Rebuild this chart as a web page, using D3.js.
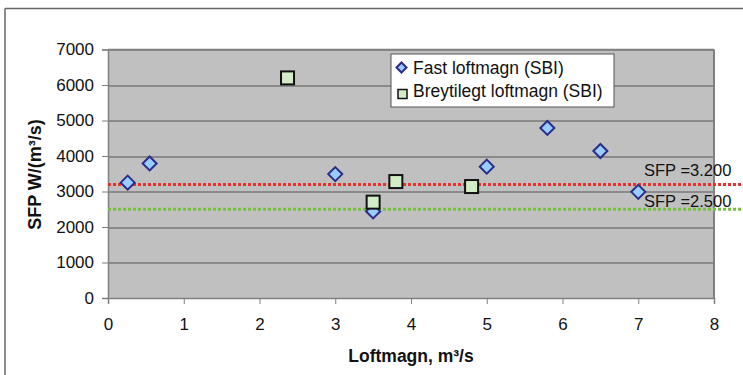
<!DOCTYPE html>
<html>
<head>
<meta charset="utf-8">
<script src="https://cdn.jsdelivr.net/npm/d3@7"></script>
<style>
  body { margin: 0; background: #fff; }
  text { font-family: "Liberation Sans", Arial, sans-serif; }
</style>
</head>
<body>
<div id="chart"></div>
<script>
// Fast loftmagn (SBI)
var fast_x = [0.26, 0.55, 3.0, 3.5, 5.0, 5.8, 6.5, 7.0];
var fast_y = [3250, 3790, 3490, 2440, 3700, 4790, 4140, 2990];
// Breytilegt loftmagn (SBI)
var breyt_x = [2.37, 3.5, 3.8, 4.8];
var breyt_y = [6200, 2700, 3280, 3140];
// reference lines
var ref_values = [3200, 2500];
var ref_labels = ['SFP =3.200', 'SFP =2.500'];
var ref_colors = ['#e3332a', '#77c043'];

var x_ticks = [0, 1, 2, 3, 4, 5, 6, 7, 8];
var y_ticks = [0, 1000, 2000, 3000, 4000, 5000, 6000, 7000];

var W = 743, H = 375;
var margin = {top: 49.5, right: 29, bottom: 77, left: 108};
var width = W - margin.left - margin.right;
var height = H - margin.top - margin.bottom;

var svg = d3.select('#chart')
    .append('svg')
        .attr('width', W)
        .attr('height', H);

// outer frame (top + left only visible)
svg.append('line').attr('x1', 5).attr('y1', 8.5).attr('x2', W).attr('y2', 8.5)
    .attr('stroke', '#666').attr('stroke-width', 1.5);
svg.append('line').attr('x1', 5).attr('y1', 8.5).attr('x2', 5).attr('y2', H)
    .attr('stroke', '#666').attr('stroke-width', 1.5);

var g = svg.append('g')
    .attr('transform', 'translate(' + margin.left + ',' + margin.top + ')');

var x_scale = d3.scaleLinear().domain([0, 8]).range([0, width]);
var y_scale = d3.scaleLinear().domain([0, 7000]).range([height, 0]);

// plot background
g.append('rect')
    .attr('width', width)
    .attr('height', height)
    .attr('fill', '#c0c0c0');

// gridlines
g.selectAll('.grid')
    .data(y_ticks.slice(1))
    .enter()
    .append('line')
        .attr('x1', 0)
        .attr('x2', width)
        .attr('y1', function(d){ return Math.round(y_scale(d)) + 0.5; })
        .attr('y2', function(d){ return Math.round(y_scale(d)) + 0.5; })
        .attr('stroke', '#555')
        .attr('stroke-width', 1);

// plot border (right + top)
g.append('line').attr('x1', width).attr('x2', width).attr('y1', 0).attr('y2', height)
    .attr('stroke', '#808080').attr('stroke-width', 2);
g.append('line').attr('x1', 0).attr('x2', width).attr('y1', 0).attr('y2', 0)
    .attr('stroke', '#808080').attr('stroke-width', 1.5);

// axes
var x_axis = d3.axisBottom(x_scale).tickValues(x_ticks).tickSize(6).tickPadding(14)
    .tickFormat(d3.format('d'));
var y_axis = d3.axisLeft(y_scale).tickValues(y_ticks).tickSize(6).tickPadding(8)
    .tickFormat(d3.format('d'));

g.append('g')
    .attr('class', 'x-axis')
    .attr('transform', 'translate(0,' + height + ')')
    .call(x_axis)
    .call(function(a){
        a.select('.domain').attr('stroke', '#808080').attr('stroke-width', 1.5);
        a.selectAll('line').attr('stroke', '#808080');
        a.selectAll('text').style('font-size', '17px').attr('fill', '#111');
    });

g.append('g')
    .attr('class', 'y-axis')
    .call(y_axis)
    .call(function(a){
        a.select('.domain').attr('stroke', '#808080').attr('stroke-width', 1.5);
        a.selectAll('line').attr('stroke', '#808080');
        a.selectAll('text').style('font-size', '17px').attr('fill', '#111');
    });

// reference lines
var ref_label_dy = [-8, -2];
g.selectAll('.ref')
    .data(ref_values)
    .enter()
    .append('line')
        .attr('x1', 0)
        .attr('x2', W - margin.left - 2)
        .attr('y1', function(d){ return y_scale(d); })
        .attr('y2', function(d){ return y_scale(d); })
        .attr('stroke', function(d, i){ return ref_colors[i]; })
        .attr('stroke-width', 3)
        .attr('stroke-dasharray', '3,2');

g.selectAll('.ref-label')
    .data(ref_values)
    .enter()
    .append('text')
        .attr('x', 536)
        .attr('y', function(d, i){ return y_scale(d) + ref_label_dy[i]; })
        .style('font-size', '16.5px')
        .attr('fill', '#111')
        .text(function(d, i){ return ref_labels[i]; });

// markers
function diamond(cx, cy, r){
    return 'M' + cx + ',' + (cy - r) + 'L' + (cx + r) + ',' + cy +
        'L' + cx + ',' + (cy + r) + 'L' + (cx - r) + ',' + cy + 'Z';
}

var fast = fast_x.map(function(x, i){ return {x: x, y: fast_y[i]}; });
var breyt = breyt_x.map(function(x, i){ return {x: x, y: breyt_y[i]}; });

g.selectAll('.fast')
    .data(fast)
    .enter()
    .append('path')
        .attr('d', function(d){ return diamond(x_scale(d.x), y_scale(d.y), 7); })
        .attr('fill', '#99ccff')
        .attr('stroke', '#2b2b8a')
        .attr('stroke-width', 2);

g.selectAll('.breyt')
    .data(breyt)
    .enter()
    .append('rect')
        .attr('x', function(d){ return x_scale(d.x) - 6.5; })
        .attr('y', function(d){ return y_scale(d.y) - 6.5; })
        .attr('width', 13)
        .attr('height', 13)
        .attr('fill', '#d3ecc8')
        .attr('stroke', '#111')
        .attr('stroke-width', 2);

// legend
var legend = svg.append('g').attr('transform', 'translate(391,54)');
legend.append('rect')
    .attr('width', 223)
    .attr('height', 53)
    .attr('fill', '#fff')
    .attr('stroke', '#555')
    .attr('stroke-width', 1);
legend.append('path')
    .attr('d', diamond(10.5, 13.5, 5))
    .attr('fill', '#99ccff')
    .attr('stroke', '#2b2b8a')
    .attr('stroke-width', 2);
legend.append('rect')
    .attr('x', 7).attr('y', 35.5).attr('width', 9).attr('height', 9)
    .attr('fill', '#d3ecc8')
    .attr('stroke', '#111')
    .attr('stroke-width', 1.5);
legend.append('text').attr('x', 22).attr('y', 20).style('font-size', '17.5px')
    .attr('fill', '#111').text('Fast loftmagn (SBI)');
legend.append('text').attr('x', 22).attr('y', 43).style('font-size', '17.5px')
    .attr('fill', '#111').text('Breytilegt loftmagn (SBI)');

// axis titles
svg.append('text')
    .attr('x', margin.left + width / 2)
    .attr('y', 361.5)
    .attr('text-anchor', 'middle')
    .style('font-size', '17.5px')
    .style('font-weight', 'bold')
    .attr('fill', '#111')
    .text('Loftmagn, m³/s');

svg.append('text')
    .attr('transform', 'translate(41,' + 174.5 + ')rotate(-90)')
    .attr('text-anchor', 'middle')
    .style('font-size', '18px')
    .style('font-weight', 'bold')
    .attr('fill', '#111')
    .text('SFP W/(m³/s)');
</script>
</body>
</html>
